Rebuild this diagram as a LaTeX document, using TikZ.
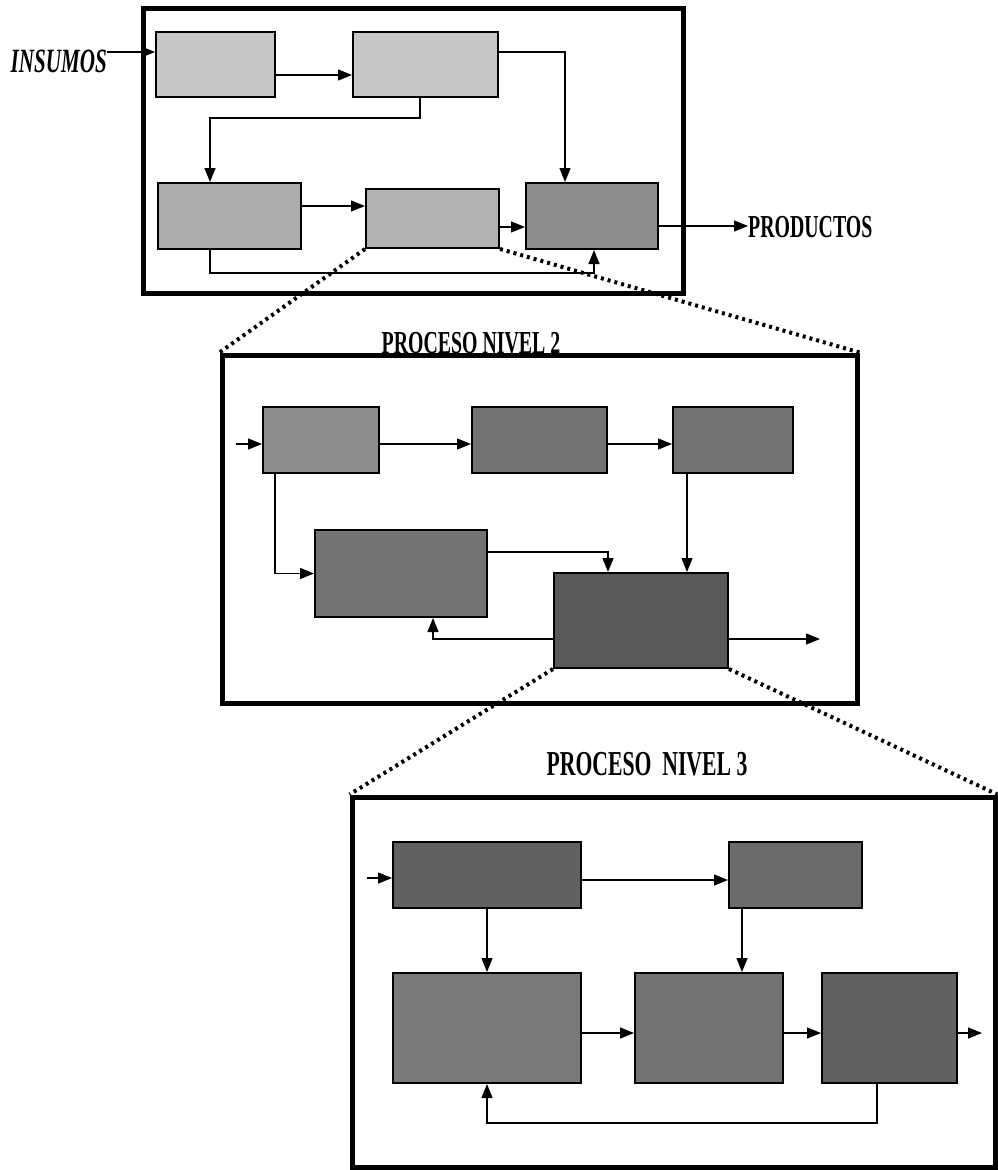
\documentclass[tikz,border=0pt]{standalone}
\usepackage{fontspec}
\newfontfamily\rotulo[FakeStretch=0.62]{Liberation Serif}
\usetikzlibrary{arrows.meta}

\begin{document}
\begin{tikzpicture}[x=1pt,y=-1pt,
  caja/.style={draw,line width=2pt,inner sep=0pt},
  marco/.style={draw,line width=5pt,inner sep=0pt},
  flecha/.style={line width=1.4pt,-{Triangle[length=14pt,width=11pt]}},
  puntos/.style={line width=4pt,dash pattern=on 3pt off 4pt},
  titulo/.style={font=\rotulo\bfseries\fontsize{32}{36}\selectfont,inner sep=0pt}]
  \useasboundingbox (0,0) rectangle (998,1170);

  \node[marco,minimum width=540pt,minimum height=285pt] (f1) at (413,150.5) {};
  \node[caja,fill=black!22,minimum width=119pt,minimum height=65pt] (b1) at (215.5,64.5) {};
  \node[caja,fill=black!22,minimum width=145pt,minimum height=65pt] (b2) at (425.5,64.5) {};
  \node[caja,fill=black!32,minimum width=143pt,minimum height=66pt] (b3) at (229.5,216) {};
  \node[caja,fill=black!30,minimum width=133pt,minimum height=59pt] (b4) at (432.5,218.5) {};
  \node[caja,fill=black!45,minimum width=132pt,minimum height=66pt] (b5) at (592,216) {};
  \node[titulo,font=\rotulo\bfseries\itshape\fontsize{34}{36}\selectfont,anchor=base east] (insumos) at (107,72) {INSUMOS};
  \node[titulo,anchor=west] (productos) at (748,227) {PRODUCTOS};
  \coordinate (e1) at ([yshift=12.5pt]b1.west);
  \coordinate (s1) at ([yshift=-10pt]b5.east);
  \draw[flecha] (insumos.east |- e1) -- (e1);
  \draw[flecha] ([yshift=-10.5pt]b1.east) -- ([yshift=-10.5pt]b2.west);
  \draw[flecha] ([yshift=12.5pt]b2.east) -| ([xshift=-27pt]b5.north);
  \draw[flecha] ([xshift=-5.5pt]b2.south) -- ++(0,20) -| ([xshift=-19.5pt]b3.north);
  \draw[flecha] ([yshift=10pt]b3.east) -- ([yshift=12.5pt]b4.west);
  \draw[flecha] ([yshift=-8.5pt]b4.east) -- ([yshift=-11pt]b5.west);
  \draw[flecha] ([xshift=-19.5pt]b3.south) -- ++(0,23) -| ([xshift=2pt]b5.south);
  \draw[flecha] (s1) -- (s1 -| productos.west);

  \node[marco,minimum width=635pt,minimum height=348pt] (f2) at (539.5,529) {};
  \node[titulo,anchor=base] (t2) at (471,353) {PROCESO NIVEL 2};
  \node[caja,fill=black!45,minimum width=116pt,minimum height=66pt] (A) at (321,440) {};
  \node[caja,fill=black!55,minimum width=135pt,minimum height=66pt] (B) at (539.5,440) {};
  \node[caja,fill=black!55,minimum width=120pt,minimum height=66pt] (C) at (733,440) {};
  \node[caja,fill=black!55,minimum width=172pt,minimum height=87pt] (D) at (401,573.5) {};
  \node[caja,fill=black!65,minimum width=174pt,minimum height=95pt] (E) at (641,620.5) {};
  \coordinate (e2) at (236,444);
  \coordinate (s2) at (820,639);
  \draw[flecha] (e2) -- (e2 -| A.west);
  \draw[flecha] ([yshift=-4pt]A.east) -- ([yshift=-4pt]B.west);
  \draw[flecha] ([yshift=-4pt]B.east) -- ([yshift=-4pt]C.west);
  \draw[flecha] ([xshift=-46pt]A.south) |- (D.west);
  \draw[flecha] ([yshift=21.5pt]D.east) -| ([xshift=-33pt]E.north);
  \draw[flecha] ([xshift=-46pt]C.south) -- ([xshift=46pt]E.north);
  \draw[flecha] ([yshift=-18.5pt]E.west) -| ([xshift=32pt]D.south);
  \draw[flecha] (s2 -| E.east) -- (s2);

  \node[marco,minimum width=643pt,minimum height=370pt] (f3) at (673.5,982) {};
  \node[titulo,font=\rotulo\bfseries\fontsize{35}{36}\selectfont,anchor=base] (t3) at (647,775) {PROCESO\ \ NIVEL 3};
  \node[caja,fill=black!62,minimum width=188pt,minimum height=66pt] (P) at (487,875) {};
  \node[caja,fill=black!58,minimum width=133pt,minimum height=66pt] (Q) at (795.5,875) {};
  \node[caja,fill=black!52,minimum width=188pt,minimum height=110pt] (R) at (487,1028) {};
  \node[caja,fill=black!55,minimum width=148pt,minimum height=110pt] (S) at (709,1028) {};
  \node[caja,fill=black!62,minimum width=135pt,minimum height=110pt] (T) at (889.5,1028) {};
  \coordinate (e3) at (367,878);
  \coordinate (s3) at (982,1033);
  \draw[flecha] (e3) -- (e3 -| P.west);
  \draw[flecha] ([yshift=-5pt]P.east) -- ([yshift=-5pt]Q.west);
  \draw[flecha] (P.south) -- (R.north);
  \draw[flecha] ([xshift=-53.5pt]Q.south) -- ([xshift=33pt]S.north);
  \draw[flecha] ([yshift=-5pt]R.east) -- ([yshift=-5pt]S.west);
  \draw[flecha] ([yshift=-5pt]S.east) -- ([yshift=-5pt]T.west);
  \draw[flecha] (s3 -| T.east) -- (s3);
  \draw[flecha] ([xshift=-12.5pt]T.south) -- ++(0,39) -| (R.south);

  \draw[puntos] (b4.south west) -- (f2.north west);
  \draw[puntos] (b4.south east) -- (f2.north east);
  \draw[puntos] (E.south west) -- (f3.north west);
  \draw[puntos] (E.south east) -- (f3.north east);
\end{tikzpicture}
\end{document}
